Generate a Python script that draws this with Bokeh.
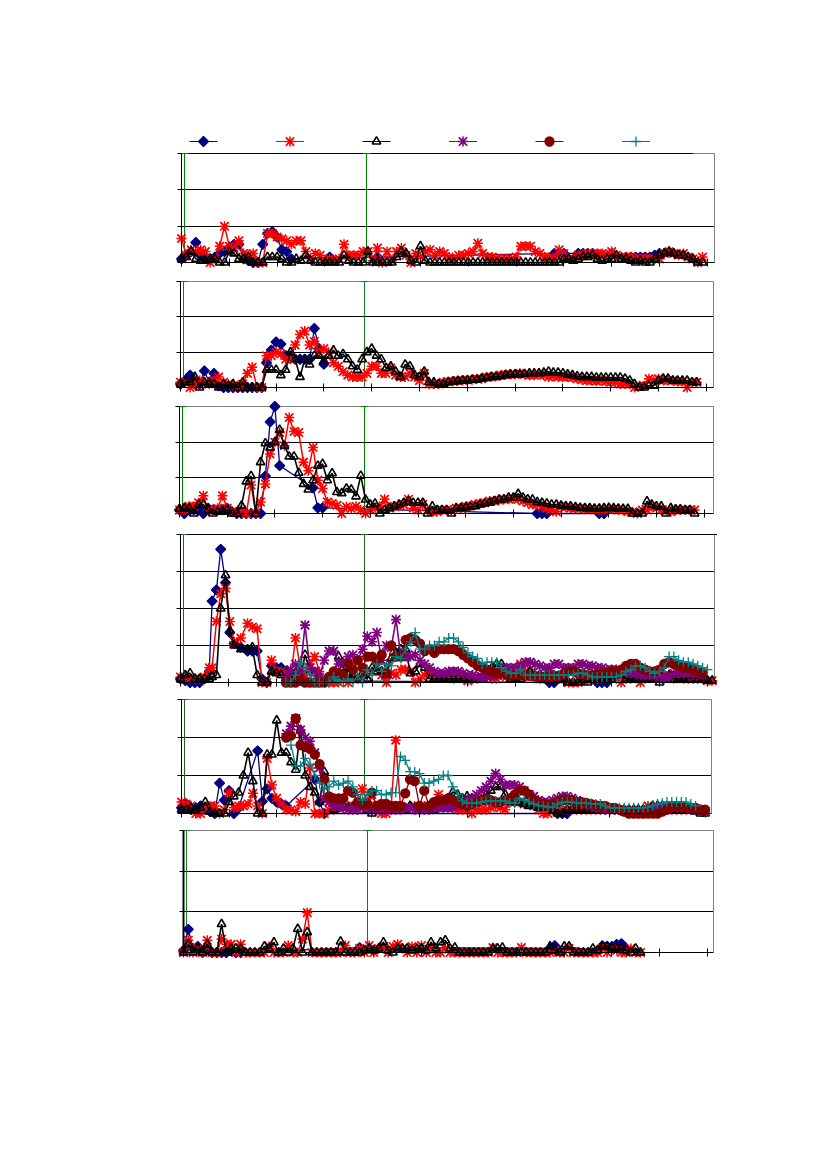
from math import pi
from bokeh.embed import file_html
from bokeh.resources import INLINE
from bokeh.plotting import figure
from bokeh.layouts import column
from bokeh.models import (LinearAxis, FixedTicker, Range1d, CustomJSTickFormatter)

N = None
# ---------- data: one list per panel and series (units: one grid step = 10) ----------
p1_blue = [1,2,3,5.5,2,1.5,1,1.5,2.5,3,4,5,5,1,0.5,0,0,5,8,8.5,7,3.5,3,1,N,N,N,N,N,N,N,1.5,N,N,N,N,N,N,N,N,N,1.5,N,N,
           N,N,N,N,N,N,N,N,N,N,N,N,N,N,N,N,N,N,N,N,N,N,N,N,N,N,N,N,N,N,N,N,N,N,
           2.5,2.5,2.5,N,N,2.5,2.5,2.5,2.5,2,N,N,2.5,N,N,1.5,1.5,1.5,1.5,1.5,1.5,2,2.5,N,N,N,N,N]
p1_red = [6.6,2,3.5,3,3.5,3,0,1,4.5,10,4.5,4,6,2.5,2,2.5,0,0,8,8,7,6.5,6,5,6,6,3,1,2.5,2,0.5,1,0.5,1,5,2,2,2,3,3,0.5,4,0,3,0.5,3,4,2,0,2.5,1.5,3,3.5,2,3,2.5,1.5,1,2,2,2.5,3,5.3,2.5,1.5,1.5,1.2,1,1,1,1.5,4.5,4.5,4.5,3,2.5,1.5,1.5,1,3.5,2.5,1,1,2,2,2.5,2.5,2.5,2.5,2.2,3,2,1.5,1.5,1.5,1,1,1,1,1,1,2.5,3,2.5,2,2.5,1.5,1,0,1.5]
p1_black = [1,1.5,3,1,0.5,0.5,1,1,0,0,3,2.5,1,1,1.5,0,0,0,1.5,1.5,1.5,1,0,0,1,0.5,2,0.5,0,0,0,0,0,0,2,0.5,0,0,0,3,0,0,0,0,0,1.5,3,2.5,0.5,0,4.5,0.5,
            0,0,0,0,0,0,0,0,0,0,0,0,0,0,0,0,0,0,0,0,0,0,0,0,0,0,0,0,
            1,1,0.5,1,1.5,1.5,2,1,0.5,1,1,2,1,1,0.5,0,0.5,0,0,1,2,2.5,3,2.5,2,2,1.5,1,0,0]

p2_blue = [1,2,3.5,1,1,4.7,1.5,4,0.5,0,0,0,0,0,0,0,0,0,7,10.6,12.9,12.3,9,9,8,8,8,8,16.7,11,6.6]
p2_red = [1.5,1.5,0,1,2,1.5,1,2,3,1.5,1,0.5,0.5,1,4,5.7,0,0,9,9,10,9.5,8,8,12,15,16,12,13,10,11,10,7,6,4.5,3.5,3,3,3,4,6,6,4,4,5.5,3.5,3,3,4,3,2,4,1,1,1,1.5,
          1.7,1.7,2,2,2.2,2.2,2.5,2.5,3,3,3.2,3.5,3.7,3.7,3.7,4,3.7,3.5,3.5,3.7,3.5,3,3.2,3,3,3,2.8,2.5,2.2,2,2,1.8,2,1.7,1.5,1.5,1,1,1,0,0.5,0.5,2.5,2,2.5,2,2,2,1.7,1.7,0,1.5,1.5]
p2_black = [1,1.5,1.5,3,0,1.5,1,1,0,1,0.5,1,0,1.5,0,0,0,0,5,5,5,3.5,5,10,8,3,8,6.5,9,9,7.5,9,10.5,9,9.5,8,6,5,8,10,11,9,8,5.5,6,4.5,3,6.5,6,3.5,3,4.5,1.5,1.5,1,1,
            1.5,1.7,1.8,2,2,2.2,2.2,2.5,2.7,3,3,3.2,3.5,3.7,3.7,3.7,3.8,4,4,4,4.2,4.5,4.2,4.2,4,3.7,3.5,3.2,3,3,3,2.8,2.8,2.8,2.8,2.8,2.8,2.5,2,1,0,0,0.5,0.5,2,2.5,2.5,2,2,2,2,1.5,1.5]

p3_blue = [1,0,1,1,1,0,1.5,1,1,1,1.5,0.5,0,0,0,0,0,0,10.5,25.7,30,13.4,N,N,N,N,N,N,7.2,1.6,1.6,N,N,N,N,N,N,N,N,N,N,N,N,N,N,N,N,N,N,N,N,N,N,N,N,N,
           N,N,N,N,N,N,N,N,N,N,N,N,N,N,N,N,N,N,N,0,0,0,N,N,N,N,N,N,N,N,N,N,0,0,N]
p3_red = [1,1,2,2,3,5,1,1,1.5,5,1.5,0.5,0.5,1,0,8,0,3.2,8.3,16.7,20,22.7,19,26.9,23,22.7,14.4,12,18.5,9.3,7,3.2,2.8,2.3,0,1.9,1.4,2,1,0,1,1.5,2,4,1.5,2,2,2.5,4,1.5,1,2.5,1,0.5,0.5,1,
          1,1,1.5,1.5,2,2.2,2.5,2.8,3,3.5,3.5,3.7,4,4,4.2,4,3.5,3,2.5,2.5,2,1.5,1,0.5,2,1.8,1.5,1.5,1.5,1.2,1.2,1.2,1,1,1.2,1.2,1,1,0.5,0.5,0,1,1,2,1.5,1,1,0.5,1,1,1,1,1]
p3_black = [1.3,1.5,1.5,0,2.5,2.5,1,0,0.5,0.5,1,0,0,2.2,9,10.5,0,14.4,19.7,18.5,20,23.5,19,16,16,11.4,8.3,6.7,9.3,13.4,13.9,9.3,11.3,6,5.7,7,6.7,4.8,10.6,3.9,2.5,2.8,0,1,1.5,2,2.5,3,3.5,3,3,3,0,2,1,1,1,0,1.5,
            1.5,1.7,1.8,2,2.5,2.8,3,3.5,3.9,4,4.5,4.5,5.5,4.5,4,3.9,3.2,3,2.8,2.5,2.5,2.2,2,2,1.8,1.6,1.5,1.5,1.4,1.4,1.5,1.6,1.5,1.4,1.3,1.3,0,0,0,3.4,2.5,2,2,0,1.5,1.2,1.2,1,1,0]

# sample positions of the first peak in panel 4 are slightly uneven; later samples sit on whole steps
p4_x_head = [0,1,2,3,4,5,6,6.6,7.5,8.4,9.4,10.3,11.2,12.6]
p4_blue = [1,0.5,0,0,0,1,3,22,25,36,27,13.5,10.5,9.5,8.5,8.5,8.5,1,0,4.5,4,4,3,2,1.5,0.5,N,N,N,N,N,N,N,N,N,N,N,N,N,N,N,N,N,N,N,N,N,N,N,N,N,N,N,N,N,N,N,N,N,N,N,N,N,N,N,N,N,N,N,N,N,N,N,N,N,
           N,N,0,0,N,N,N,N,N,N,N,N,0,0,0,N]
p4_red = [1.5,1.5,1,1,1,1.5,4,4,16.5,24,25.5,16.5,11,12,16,15,14.5,0,0,6,3,3,2,1,12,4,2,5,7,3,0.5,0,0,0,1,0,1,1,1,2,3,4,2,0,2.5,2,3.5,3.5,3,0,1,2,3,2,2,1.5,2,1,2,1,0.5,1,1,1.5,1.5,1,1,2,1.5,3,2,5,3,3.5,2,1,2,3,2,1,1.5,0,0,0,0.5,1,1,1,1,2,1.5,1,0,1,1,1.5,0,1,1.5,2,2,1,2,1,1.5,1,1,1,1,1,0.5,0.5]
p4_black = [1,2,2.5,1,1,1,1,1.5,2,20,29,14,10,9,9,9.5,2,0,0,3,2.5,2,1,1,4,1,7.5,3.5,2.5,0,0,1,2,7,4,2,2,1,2.5,1,4,3,3,2,6.5,8,9,9,2.5,3,5,4,1,1,1,1,1,1,1,1,1,1,1,1,2,4,5,5,2.5,1,1,1,2,3,2,2,1,2,2,1,1,0,0,0,1,0,1,1,1,1,1,2,2,1,1,1,1,1,1,1,0,1,2,1,1,1,1,2,1,1,0.5,0.5]
p4_purple = [N]*22 + [1,3.5,5,3,15.5,4,3,1.5,6,8.5,8.5,5,5.5,7,7.5,6,9,12.5,11,13.5,6,10,9.5,17,7,7,7,7.5,6,5,4,3,2.5,2.5,3,3,3,2.5,2,2,1.5,1.5,1.5,2,2,3,4,4,4,4.5,5.5,5.5,5,4.5,4,4,5,5,4,4,4,5,5,4.5,4.5,4,4,3.5,3.5,3.5,3,3,2.5,2.5,2,2,2,2,1.5,1.5,1.5,2.5,3,2.5,2.5,2.5,2.5,2]
p4_brown = [N]*22 + [0,0,0,1,0,0,0,0,0,1.5,3,2.5,2,5,3.5,6,4,7,7,6,7.5,2.5,10,7,7,11.5,12,11.5,10.5,8.5,9,8,9,9,9,9,8.5,7.5,6.5,5.5,4.5,4,3.5,3,2.5,2.5,2.2,2,2,2,1.8,1.8,1.6,1.5,1.5,1.5,1.5,1.8,2.2,3,3,2.5,2.2,2,2,2.2,2.5,2.5,3,3,3.5,4.5,5,5,4,3.5,3,3,3.5,5,5.5,5,4.5,4,4,3.5,3,2.5]
p4_teal = [N]*22 + [0,0,2,5.5,4,2,0,0,0,0,1.5,0.5,0,1,0,2,0,3.5,2,5,3,5,4.5,7,6.5,9,11,13.5,9,9,10,10,11,11,12,12,11,9.5,8,7,6.5,5,5.5,5.5,5.5,4,3,2.5,2.5,3.5,2,2,2,2,2,2,2,2,2,2,2,2.5,2.5,2,1.5,1.5,1.5,1.5,1.5,1.5,2,3,3.5,4.5,4.5,4,3,2.5,3,4,7,7,6,5.5,5.5,5,4.5,4,3.5]

p5_blue = [1.5,2.5,1,1.5,2,1,0.5,0,8,3.5,6,0,1.5,N,N,N,16.5,3.2,6.5,4,3,2.5,2,N,N,N,N,N,9,3,0,N,N,N,N,N,N,N,N,N,N,N,N,N,N,N,N,N,N,N,N,N,N,N,N,N,N,N,N,N,N,N,N,N,N,N,N,N,N,N,N,N,N,N,N,N,N,N,N,0,0,0,N]
p5_red = [3,2.5,2,0,0,1.5,2,2,0,1,5.5,1.5,2,2,2.5,5.3,2,0,14.5,7.5,4,2.5,1,1,0.5,3,2.5,12,0,0,0,1,1,1.5,1.5,2,2,2,6.5,3,5,2,0,0,1,19.3,2,1.5,1.5,2,1.5,2,2,1.5,5,2,2,1.5,1,1,1,0,1,1,1,1.5,2,1.5,1,3,3,3,2.5,2.5,2,1,0,0,1,2,1,1,1,1,1,1,1,1,1,1,1,1,1,0.5,0.5,1,1,0,2,1,1,1,1,1,1,1,1,1.5,1,1,0.5]
p5_black = [1,1,1.5,1,1.5,3,0.5,0,0,0,3,4.5,5.5,10,16,8.5,0,0,15.5,15.5,24.5,16,16,13.5,11.5,22,10,7,5.5,3,11,4,1,2,2,1.5,1.5,2,2,1,0,1,1,1,1,1,1.5,1,2,1.5,1,1,1,1,2,3,4,5.7,5,4,4.5,4,3,3,5,6,7,7,5,3,3,3,2.5,2,2,1.5,1.5,1.5,1,0,0,1,1,1,1,1,1,1,1,1,1,1,1,1,1,1,1,1,1,2,2,2,1.5,1.5,1,1,1,1,0.5,0,0]
p5_purple = [N]*22 + [21,23,25,22,20,19,16,12,4,3,2,2,1.5,1,1,1,1.5,1.5,1,1,1,1.5,1,1,1,1.5,1.5,1,1,1,1,1.5,1.5,1.5,1.5,1.5,2,3,3.5,4,5,6,7,8.5,10.5,9,7.5,7.5,7.5,7,6,5,4.5,3.5,3,3,3.5,4,4.5,4.5,4,3.5,3,2.5,2,1.5,1.5,1,1,1,1,1,0.5,0.5,0.5,0.5,0.5,1,1.5,2,2,2,1.5,1.5,1.5,1,1,1,0.5]
p5_brown = [N]*22 + [20,20.5,25,18,17.5,17,15.5,13,9,4.5,4,4,4,6,5.5,3,2.5,2.5,5.5,2,2.5,2.5,2,2,2,5.3,9,8.5,2,6,2,3,3.5,3.5,4,3.5,3,2.5,2,2.5,3,3.5,4,3.5,3,3,3.5,4,5,6,6,5,3.5,3,2.5,2,2.5,3,3.5,3.5,3.5,3,3,2.8,2.5,2.2,2,2,1.5,1.5,1,0.5,0,0,0,0,0,0,0,0.5,1,2,2,2,1.5,1.5,1.5,1,1]
p5_teal = [N]*23 + [18,12.5,12.5,14.5,13,10,8,6.5,7,8.5,7.5,8,8.5,7,5,3.5,5,6,6,5,5,5.5,5.5,15,14,11,11,10.5,8,8,8.5,9,10,10,7,5,3.3,2.7,2.7,2.7,3,3.3,3.3,3.3,3.3,3.3,2.7,2.7,4,3.5,3,2.5,2,2,1.7,1.7,2.5,3,3,3,2.8,2.7,2.7,2.6,2.5,2.5,2,1.5,1.5,1.5,1.5,1.5,1.5,1.5,1.5,1.7,2,2.5,2.7,3,3,3,3,3,2.5,2]

p6_blue = [0.5,5.7,1,1.5,0,1,0,0,0,0,0.5,0,0,N,N,N,N,N,N,N,N,N,N,N,N,N,N,N,N,N,N,N,N,N,N,N,N,1.2,N,N,N,N,N,N,N,N,N,N,N,N,N,N,N,N,N,N,N,N,N,N,N,N,N,N,N,N,N,N,N,N,N,N,N,N,N,N,N,1,1.7,N,N,N,N,N,N,N,N,0.5,1.7,1.5,1.5,2,2.2,1]
p6_red = [0,3,0,1,0,3,0,0,3.3,2,2,0,2,0,0,0,0,0,1.5,0,0,0,1.7,0,0,3.3,9.8,0,0,0,0,0,0,0,1.7,0,0,1,0,1.7,0,1,1.5,0,1.5,2,1,0,1.5,0,1.7,0,1.5,0,0,1,0,0,0,0,0,0,0,0,0,1.2,0,0,0,0,0,1.2,0,0,0,0,0,0,0.5,0,0,1,0,0,0,0,0,0,1,0,1,0.5,0,0,1,0,0]
p6_black = [0,2,0,1,0,2,0,0,7,0,1,1,1,0,0,0,0,1.5,1,2.5,0,1,0,1,5.8,0,5,0,0,0,0,0,0,2.7,0,0,0,0,0.5,1,0.5,1,2.5,0.5,0,1,1,1,0.5,1,1,0.5,2.5,1,2.5,3,1,1.2,0,0,0,0,0,0,0,1,1,1.2,0,0,0,0,0,0,0,0,0,1.5,0.5,0,1.5,1.5,0,0,0,0,1,0.5,1.5,1.5,1,1,1.2,0.5,0,1,0]

legend_order = ["blue", "red", "black", "purple", "brown", "teal"]

# ---------- styles ----------
BLUE, RED, BLACK, PURPLE, BROWN, TEAL = "#000080", "#ff0000", "#000000", "#800080", "#800000", "#008080"
STYLES = {
    "blue":   dict(color=BLUE,   markers=[("square", 7)],                fill=BLUE,  lw=1.3, angle=pi / 4),
    "red":    dict(color=RED,    markers=[("x", 12), ("asterisk", 10)],  fill=None,  lw=1.5, angle=0),
    "black":  dict(color=BLACK,  markers=[("triangle", 8.5)],            fill=None,  lw=1.6, angle=0),
    "purple": dict(color=PURPLE, markers=[("x", 12), ("asterisk", 10)],  fill=None,  lw=1.6, angle=0),
    "brown":  dict(color=BROWN,  markers=[("circle", 9)],                fill=BROWN, lw=1.3, angle=0),
    "teal":   dict(color=TEAL,   markers=[("cross", 10)],                fill=None,  lw=1.3, angle=0),
}
PAD = 6
PAGE_W = 811
# a column lines up the frames of its figures, so all share one frame and
# each panel places its own axes inside it through its ranges
FRAME_L, FRAME_R = 172, 722


def draw(p, name, xs, ys):
    s = STYLES[name]
    pairs = [(x, v) for x, v in zip(xs, ys) if v is not None]
    xv = [a for a, _ in pairs]
    yv = [b for _, b in pairs]
    p.line(xv, yv, line_color=s["color"], line_width=s["lw"])
    for marker, size in s["markers"]:
        p.scatter(xv, yv, marker=marker, size=size, angle=s["angle"], line_color=s["color"],
                  fill_color=s["fill"], line_width=s["lw"])


def panel(left, step, right, top, bottom, fig_top, fig_bottom, intervals, green, series,
          top_black=None, green_color="#008000", left_width=1, x_head=()):
    left, right, top, bottom = int(left), int(right), int(top), int(bottom)
    y0 = bottom + PAD
    y1 = top - PAD
    unit = (bottom - top) / (intervals * 10)
    p = figure(width=PAGE_W, height=fig_bottom - fig_top, output_backend="svg", toolbar_location=None,
               min_border_left=FRAME_L, min_border_right=PAGE_W - FRAME_R,
               min_border_top=y1 - fig_top, min_border_bottom=fig_bottom - y0,
               x_range=Range1d((FRAME_L - left) / step, (FRAME_R - left) / step),
               y_range=Range1d(-(y0 - bottom) / unit, (bottom - y1) / unit),
               x_axis_type=None, y_axis_type=None, outline_line_color=None)
    xend = (right - left) / step
    ymax = intervals * 10
    yt = [10 * k for k in range(intervals + 1)]
    xt = [t for t in range(0, 120, 10) if t <= xend]

    def snap_y(v):
        return round(v * unit) / unit

    def snap_x(v):
        return round(v * step) / step

    grid_y = [snap_y(v) for v in yt[1:-1]]
    p.segment([0] * len(grid_y), grid_y, [xend] * len(grid_y), grid_y, line_color="black", line_width=1)
    p.segment([xend], [0], [xend], [ymax], line_color="#808080", line_width=1)
    p.segment([0], [ymax], [xend], [ymax], line_color="#808080", line_width=1)
    if top_black is not None:
        p.segment([0], [ymax], [top_black], [ymax], line_color="black", line_width=1)
    # the two vertical markers with their caps
    for g in green:
        gx = snap_x(g)
        p.segment([gx], [0], [gx], [ymax], line_color=green_color, line_width=1)
        p.segment([gx - 0.8], [ymax], [gx + 0.8], [ymax], line_color=green_color, line_width=1)

    fmt = CustomJSTickFormatter(code="return ''")
    xa = LinearAxis(ticker=FixedTicker(ticks=xt), fixed_location=0, bounds=(0, xend), formatter=fmt,
                    major_tick_in=4, major_tick_out=4, minor_tick_line_color=None,
                    axis_line_color="black", major_tick_line_color="black", major_tick_line_width=1)
    ya = LinearAxis(ticker=FixedTicker(ticks=yt), fixed_location=0, bounds=(0, ymax), formatter=fmt,
                    major_tick_in=0, major_tick_out=4, minor_tick_line_color=None,
                    axis_line_color="black", major_tick_line_color="black", axis_line_width=left_width)
    p.add_layout(xa, "below")
    p.add_layout(ya, "left")

    for name, ys in series:
        xs = [x_head[i] if i < len(x_head) else i for i in range(len(ys))]
        draw(p, name, xs, ys)
    return p


# legend row: keys only, the reference has no label text
LEG_H = 147
leg = figure(width=PAGE_W, height=LEG_H, output_backend="svg", toolbar_location=None,
             min_border_left=FRAME_L, min_border_right=PAGE_W - FRAME_R, min_border_top=0, min_border_bottom=0,
             x_range=Range1d(FRAME_L, FRAME_R), y_range=Range1d(LEG_H, 0),
             x_axis_type=None, y_axis_type=None, outline_line_color=None)
for k, name in enumerate(legend_order):
    s = STYLES[name]
    cx = 203 + 86.5 * k
    leg.line([cx - 14, cx + 14], [141, 141], line_color=s["color"], line_width=1)
    for marker, size in s["markers"]:
        leg.scatter([cx], [141], marker=marker, size=size, angle=s["angle"], line_color=s["color"],
                    fill_color=s["fill"], line_width=s["lw"])

p1 = panel(181, 4.78, 714, 153, 262, LEG_H, 270, 3, [0.7, 38.8],
           [("blue", p1_blue), ("red", p1_red), ("black", p1_black)], top_black=107)
p2 = panel(180, 4.78, 713, 281, 387, 270, 396, 3, [0.7, 38.5],
           [("blue", p2_blue), ("red", p2_red), ("black", p2_black)], green_color="#1a7a1a")
p3 = panel(179, 4.77, 713, 406, 513, 396, 523, 3, [0.7, 38.8],
           [("blue", p3_blue), ("red", p3_red), ("black", p3_black)])
p4 = panel(180, 4.79, 714, 534, 682, 523, 690, 4, [0.6, 38.5],
           [("blue", p4_blue), ("red", p4_red), ("black", p4_black),
            ("purple", p4_purple), ("brown", p4_brown), ("teal", p4_teal)],
           top_black=112, green_color="#1a6b1a", x_head=p4_x_head)
p5 = panel(181, 4.76, 711, 699, 813, 690, 821, 3, [0.6, 38.5],
           [("blue", p5_blue), ("red", p5_red), ("black", p5_black),
            ("purple", p5_purple), ("brown", p5_brown), ("teal", p5_teal)],
           green_color="#1a6b1a")
p6 = panel(183, 4.76, 713, 830, 952, 821, 960, 3, [0.7, 38.7],
           [("blue", p6_blue), ("red", p6_red), ("black", p6_black)], green_color="#1a7a1a", left_width=2)

page = column(leg, p1, p2, p3, p4, p5, p6, spacing=0)
open("out.html", "w").write(file_html(page, INLINE))
